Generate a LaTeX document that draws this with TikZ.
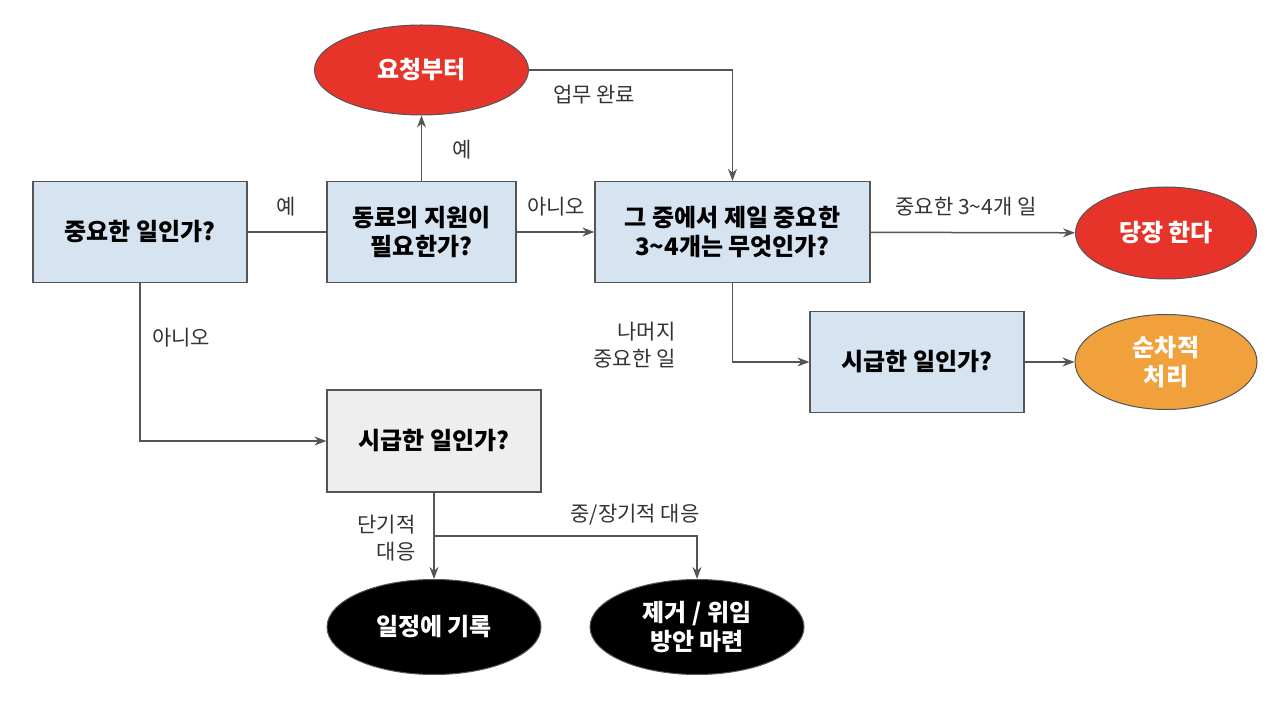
\documentclass[tikz,border=0pt]{standalone}
\usepackage{fontspec}
\usepackage{xcolor}
\usepackage{tikz}
\usetikzlibrary{shapes.geometric, arrows.meta}
\setmainfont{Noto Sans CJK KR}
\definecolor{boxblue}{HTML}{D6E3F0}
\definecolor{boxgray}{HTML}{EEEEEE}
\definecolor{hotred}{HTML}{E6342A}
\definecolor{warmorange}{HTML}{F0A13C}
\definecolor{linegray}{HTML}{555555}
\definecolor{textgray}{HTML}{333333}

\begin{document}
\begin{tikzpicture}[x=0.5pt, y=-0.5pt,
    question/.style={draw=linegray, line width=0.6pt, fill=boxblue, inner sep=0pt,
        minimum width=107pt, minimum height=50.5pt, align=center,
        font=\bfseries\fontsize{12}{14.5}\selectfont},
    outcome/.style={ellipse, draw=linegray, line width=0.5pt, inner sep=0pt,
        minimum width=107pt, minimum height=45pt, align=center, text=white,
        font=\bfseries\fontsize{12}{14.5}\selectfont},
    answer/.style={text=textgray, align=center, inner sep=0pt,
        font=\fontsize{10.5}{13.5}\selectfont},
    flow/.style={draw=linegray, line width=0.75pt},
    flowto/.style={flow, -{Stealth[length=6pt, width=4.5pt]}}]
    \useasboundingbox (0,0) rectangle (1280,705);

    % Questions
    \node[question] (imp) at (140,232) {중요한 일인가?};
    \node[question, minimum width=94.5pt] (help) at (421.5,232) {동료의 지원이\\필요한가?};
    \node[question, minimum width=137.5pt] (top) at (732.5,232) {그 중에서 제일 중요한\\3\textasciitilde4개는 무엇인가?};
    \node[question] (urgA) at (917,362) {시급한 일인가?};
    \node[question, fill=boxgray, minimum height=51pt] (urgB) at (434,441) {시급한 일인가?};

    % Results
    \node[outcome, fill=hotred] (ask) at (421.5,70) {요청부터};
    \node[outcome, fill=hotred, minimum width=90.5pt, minimum height=46pt] (now) at (1166,233) {당장 한다};
    \node[outcome, fill=warmorange, minimum width=91pt, minimum height=47.5pt] (seq) at (1166,362) {순차적\\처리};
    \node[outcome, fill=black, minimum height=47.5pt] (sched) at (434,627) {일정에 기록};
    \node[outcome, fill=black, minimum height=47.5pt] (deleg) at (697,627) {제거 / 위임\\방안 마련};

    % Connecteurs
    \draw[flow] (imp) -- (help);
    \draw[flowto] (help) -- (ask);
    \draw[flowto] (help) -- (top);
    \draw[flowto] (ask.east) -| (top.north);
    \draw[flowto] (top) -- (now);
    \draw[flowto] (top.south) |- (urgA.west);
    \draw[flowto] (urgA) -- (seq);
    \draw[flowto] (imp.south) |- (urgB.west);
    \draw[flowto] (urgB) -- (sched);
    \coordinate (split) at (434,536);
    \draw[flowto] (split) -| (deleg.north);

    % Etiquettes
    \node[answer] (yesA) at (286,207) {예};
    \node[answer] (yesB) at (462,150) {예};
    \node[answer] (noA) at (556,207) {아니오};
    \node[answer] (done) at (594,95) {업무 완료};
    \node[answer] (topfew) at (966,207) {중요한 3\textasciitilde4개 일};
    \node[answer, anchor=east, align=right] (rest) at (676,345) {나머지\\중요한 일};
    \node[answer] (noB) at (181,338) {아니오};
    \node[answer, anchor=east, align=right] (short) at (416,538) {단기적\\대응};
    \node[answer] (long) at (635,515) {중/장기적 대응};
\end{tikzpicture}
\end{document}
